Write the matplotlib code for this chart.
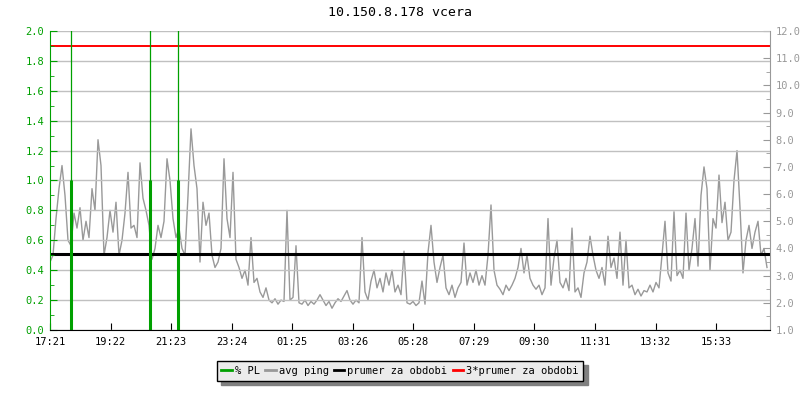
import numpy as np
import matplotlib
matplotlib.use("Agg")
import matplotlib.pyplot as plt
from matplotlib.ticker import MultipleLocator, FormatStrFormatter

# avg ping [ms], one sample every 6 minutes, starting 17:21
ping = [
    3.5, 3.75, 5.1, 6.2, 7.05, 5.95, 4.3, 4.1, 5.3, 4.75,
    5.5, 4.3, 5.0, 4.4, 6.2, 5.4, 8.0, 7.05, 3.75, 4.4,
    5.4, 4.6, 5.7, 3.75, 4.3, 5.3, 6.8, 4.75, 4.85, 4.4,
    7.15, 5.85, 5.4, 4.85, 3.6, 4.0, 4.85, 4.4, 5.0, 7.3,
    6.5, 5.1, 4.4, 4.75, 4.0, 3.75, 5.95, 8.4, 7.05, 6.2,
    3.5, 5.7, 4.85, 5.3, 3.75, 3.3, 3.5, 4.0, 7.3, 5.1,
    4.4, 6.8, 3.6, 3.3, 2.9, 3.2, 2.65, 4.4, 2.75, 2.9,
    2.4, 2.2, 2.55, 2.1, 2.0, 2.15, 1.95, 2.1, 2.05, 5.4,
    2.1, 2.2, 4.1, 2.0, 1.95, 2.1, 1.9, 2.05, 1.95, 2.1,
    2.3, 2.1, 1.9, 2.05, 1.8, 2.0, 2.15, 2.05, 2.25, 2.45,
    2.1, 1.95, 2.1, 2.0, 4.4, 2.4, 2.1, 2.8, 3.2, 2.55,
    2.9, 2.4, 3.1, 2.65, 3.2, 2.4, 2.65, 2.3, 3.9, 2.0,
    1.95, 2.05, 1.9, 2.0, 2.8, 1.95, 3.85, 4.85, 3.5, 2.75,
    3.3, 3.75, 2.55, 2.3, 2.65, 2.2, 2.55, 2.75, 4.2, 2.65,
    3.1, 2.75, 3.2, 2.65, 3.0, 2.65, 3.75, 5.6, 3.2, 2.65,
    2.5, 2.3, 2.65, 2.45, 2.65, 2.9, 3.3, 4.0, 3.1, 3.75,
    2.9, 2.65, 2.5, 2.65, 2.3, 2.55, 5.1, 2.65, 3.65, 4.3,
    2.75, 2.55, 2.9, 2.45, 4.75, 2.4, 2.55, 2.2, 3.1, 3.5,
    4.45, 3.75, 3.2, 2.9, 3.3, 2.65, 4.45, 3.3, 3.65, 2.9,
    4.6, 2.65, 4.3, 2.55, 2.65, 2.3, 2.5, 2.25, 2.45, 2.4,
    2.65, 2.4, 2.75, 2.55, 3.75, 5.0, 3.1, 2.8, 5.35, 3.0,
    3.2, 2.9, 5.3, 3.2, 4.0, 5.1, 3.35, 5.95, 7.0, 6.2,
    3.2, 5.1, 4.75, 6.7, 4.95, 5.7, 4.3, 4.6, 6.5, 7.6,
    5.5, 3.1, 4.3, 4.85, 4.0, 4.6, 5.0, 3.75, 4.0, 3.3,
]
sample_step = 6  # minutes

# packet loss [%] (minutes from start)
pl_minutes = [41, 199, 256]
pl_values = [1.0, 1.0, 1.0]
pl_peak_minutes = [42, 199.5, 256.5]
pl_peak_values = [2.5, 2.5, 2.5]

prumer = 3.81          # prumer za obdobi [ms]
prumer3 = 3 * prumer   # 3*prumer za obdobi

tick_labels = ['17:21', '19:22', '21:23', '23:24', '01:25', '03:26',
               '05:28', '07:29', '09:30', '11:31', '13:32', '15:33']
tick_step = 121.1  # minutes between labels
total_minutes = 1440

green = '#00a000'
grey = '#999999'
plt.rcParams['font.family'] = 'DejaVu Sans Mono'
plt.rcParams['font.size'] = 7.5

fig = plt.figure(figsize=(8, 4), dpi=100)
ax = fig.add_axes([0.0625, 0.175, 0.9, 0.7475])
ax2 = ax.twinx()
ax.set_zorder(ax2.get_zorder() + 1)
ax.patch.set_visible(False)

t = np.arange(len(ping)) * sample_step
ax2.plot(t, ping, color=grey, lw=1)
ax2.axhline(prumer, color='black', lw=2.2)
ax2.axhline(prumer3, color='red', lw=1.4)
ax2.set_ylim(1, 12)

ax.vlines(pl_peak_minutes, 0, pl_peak_values, color=green, lw=0.9)
ax.vlines(pl_minutes, 0, pl_values, color=green, lw=2.2)
ax.set_ylim(0, 2)
ax.set_xlim(0, total_minutes)

ax.yaxis.set_major_locator(MultipleLocator(0.2))
ax.yaxis.set_minor_locator(MultipleLocator(0.1))
ax.yaxis.set_major_formatter(FormatStrFormatter('%.1f'))
ax.grid(axis='y', color='#c0c0c0', lw=1)
ax.set_xticks([i * tick_step for i in range(len(tick_labels))])
ax.set_xticklabels(tick_labels)

ax.tick_params(axis='y', which='both', direction='in', colors=green,
               labelcolor=green, pad=4)
ax.tick_params(axis='y', which='major', length=5)
ax.tick_params(axis='y', which='minor', length=3)
ax.tick_params(axis='x', direction='in', length=5, pad=5, colors='black')

ax2.yaxis.set_major_locator(MultipleLocator(1.0))
ax2.yaxis.set_minor_locator(MultipleLocator(0.5))
ax2.yaxis.set_major_formatter(FormatStrFormatter('%.1f'))
ax2.tick_params(axis='y', which='both', direction='in', colors=grey,
                labelcolor=grey, pad=4)
ax2.tick_params(axis='y', which='major', length=5)
ax2.tick_params(axis='y', which='minor', length=3)

for a in (ax, ax2):
    a.spines['top'].set_visible(False)
ax.spines['left'].set_color(green)
ax.spines['right'].set_visible(False)
ax2.spines['left'].set_visible(False)
ax2.spines['right'].set_color(grey)
ax2.spines['bottom'].set_visible(False)
ax.spines['bottom'].set_color('black')

fig.text(0.5, 0.9675, '10.150.8.178 vcera', ha='center', va='center', fontsize=9.5)

h = [plt.Line2D([], [], color=green, lw=2),
     plt.Line2D([], [], color=grey, lw=2),
     plt.Line2D([], [], color='black', lw=2),
     plt.Line2D([], [], color='red', lw=2)]
leg = fig.legend(h, ['% PL', 'avg ping', 'prumer za obdobi', '3*prumer za obdobi'],
                 loc='center', bbox_to_anchor=(0.5, 0.0725), ncol=4,
                 handlelength=1.0, handletextpad=0.3, columnspacing=0.5,
                 borderpad=0.45, fancybox=False, fontsize=7.5,
                 shadow={'color': '#808080', 'alpha': 1, 'ox': 3, 'oy': -3})
leg.get_frame().set_facecolor('#ebebeb')
leg.get_frame().set_edgecolor('black')
leg.get_frame().set_alpha(1)

fig.savefig('out.png', dpi=100)
